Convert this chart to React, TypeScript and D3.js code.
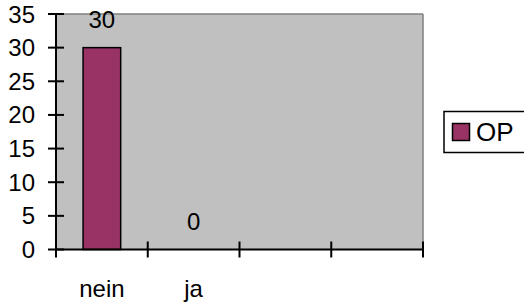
import * as d3 from "d3";

const categories = ["nein", "ja", "", ""];
const values: (number | null)[] = [30, 0, null, null];
const seriesName = "OP";
const yTicks = [0, 5, 10, 15, 20, 25, 30, 35];

const W = 524;
const H = 308;
const plot = { left: 56, top: 14, right: 423, bottom: 249.5 };
const font = "'Liberation Sans', Arial, sans-serif";

const App = () => {
     const x = d3.scaleBand<string>()
          .domain(categories.map((c, i) => String(i)))
          .range([plot.left, plot.right]);
     const y = d3.scaleLinear().domain([0, 35]).range([plot.bottom, plot.top]);
     const barW = x.bandwidth() * 0.41;
     const edges = categories.map((c, i) => x(String(i)) as number).concat([plot.right]);

     return (
          <svg width={W} height={H} style={{ position: "absolute", left: 0, top: 0 }} fontFamily={font}>
               <rect x={plot.left} y={plot.top} width={plot.right - plot.left} height={plot.bottom - plot.top} fill="#c0c0c0" />
               <line x1={plot.left} y1={plot.top} x2={plot.right} y2={plot.top} stroke="#808080" strokeWidth={1.5} />
               <line x1={plot.right} y1={plot.top} x2={plot.right} y2={plot.bottom} stroke="#808080" strokeWidth={1.5} />

               {values.map((v, i) => {
                    if (v == null) return null;
                    const cx = (x(String(i)) as number) + x.bandwidth() / 2;
                    return (
                         <g key={i}>
                              {v > 0 && (
                                   <rect x={cx - barW / 2} y={y(v)} width={barW} height={y(0) - y(v)}
                                        fill="#993366" stroke="#000" strokeWidth={1.5} />
                              )}
                              <text x={cx} y={y(v) - 20} textAnchor="middle" fontSize={24}>{v}</text>
                         </g>
                    );
               })}

               {/* axes */}
               <line x1={plot.left} y1={plot.top} x2={plot.left} y2={plot.bottom} stroke="#000" strokeWidth={2} />
               <line x1={plot.left} y1={plot.bottom} x2={plot.right} y2={plot.bottom} stroke="#000" strokeWidth={2} />
               {yTicks.map(t => (
                    <g key={t}>
                         <line x1={plot.left - 8} x2={plot.left + 8} y1={y(t)} y2={y(t)} stroke="#000" strokeWidth={2} />
                         <text x={35} y={y(t) + 8.5} textAnchor="end" fontSize={24}>{t}</text>
                    </g>
               ))}
               {edges.map((e, i) => (
                    <line key={i} x1={e} x2={e} y1={plot.bottom - 8} y2={plot.bottom + 8} stroke="#000" strokeWidth={2} />
               ))}
               {categories.map((c, i) => (
                    <text key={i} x={(x(String(i)) as number) + x.bandwidth() / 2} y={297} textAnchor="middle" fontSize={24}>{c}</text>
               ))}

               {/* legend */}
               <rect x={444} y={111.5} width={82} height={41} fill="#fff" stroke="#000" strokeWidth={1.5} />
               <rect x={452.5} y={123.5} width={17} height={17} fill="#993366" stroke="#000" strokeWidth={1.5} />
               <text x={476} y={141} fontSize={26}>{seriesName}</text>
          </svg>
     );
};

export default App;
